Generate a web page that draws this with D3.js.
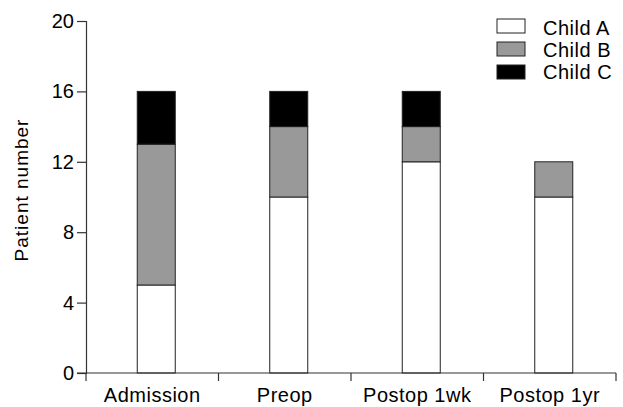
<!DOCTYPE html>
<html>
<head>
<meta charset="utf-8">
<script src="https://cdn.jsdelivr.net/npm/d3@7"></script>
<style>
  body { margin: 0; background: #fff; }
  svg text { font-family: "Liberation Sans", Arial, sans-serif; fill: #000; }
</style>
</head>
<body>
<div id="chart"></div>
<script>
(function () {
  'use strict';
  const categories = ['Admission', 'Preop', 'Postop 1wk', 'Postop 1yr'];
  const seriesNames = ['Child A', 'Child B', 'Child C'];
  const childA = [5, 10, 12, 10];
  const childB = [8, 4, 2, 2];
  const childC = [3, 2, 2, 0];
  const yTicks = [0, 4, 8, 12, 16, 20];
  const colors = ['#ffffff', '#999999', '#000000'];

  const width = 623;
  const height = 407;
  const left = 86, right = 616, top = 21, bottom = 373;

  const rows = categories.map((c, i) => ({ cat: c, 'Child A': childA[i], 'Child B': childB[i], 'Child C': childC[i] }));
  const stacked = d3.stack().keys(seriesNames)(rows);

  const x = d3.scaleBand().domain(categories).range([left, right]);
  const y = d3.scaleLinear().domain([0, 20]).range([bottom, top]);
  const barWidth = 38;
  const barShift = 4;

  const svg = d3.select('#chart')
    .append('svg')
    .attr('width', width)
    .attr('height', height);

  // bars
  stacked.forEach((layer, k) => {
    svg.append('g')
      .selectAll('rect')
      .data(layer.filter(d => d[1] > d[0]))
      .enter()
      .append('rect')
      .attr('x', d => x(d.data.cat) + x.bandwidth() / 2 - barWidth / 2 + barShift)
      .attr('y', d => y(d[1]))
      .attr('width', barWidth)
      .attr('height', d => y(d[0]) - y(d[1]))
      .attr('fill', colors[k])
      .attr('stroke', '#222')
      .attr('stroke-width', 1);
  });

  // y axis
  const yAxis = d3.axisLeft(y).tickValues(yTicks).tickSize(9).tickPadding(3);
  const gy = svg.append('g')
    .attr('transform', 'translate(' + left + ',0)')
    .call(yAxis);
  gy.select('.domain').attr('stroke', '#333').attr('stroke-width', 1.2);
  gy.selectAll('.tick line').attr('stroke', '#333').attr('stroke-width', 1.2);
  gy.selectAll('.tick text').style('font-size', '20px');

  // x axis: baseline plus separator ticks between categories
  svg.append('line')
    .attr('x1', left - 9).attr('x2', right)
    .attr('y1', y(0)).attr('y2', y(0))
    .attr('stroke', '#333').attr('stroke-width', 1.2);

  const bounds = categories.map(c => x(c)).concat([x(categories[categories.length - 1]) + x.bandwidth()]);
  svg.append('g')
    .selectAll('line')
    .data(bounds)
    .enter()
    .append('line')
    .attr('x1', d => d).attr('x2', d => d)
    .attr('y1', y(0)).attr('y2', y(0) + 8)
    .attr('stroke', '#333').attr('stroke-width', 1.2);

  svg.append('g')
    .selectAll('text')
    .data(categories)
    .enter()
    .append('text')
    .attr('x', d => x(d) + x.bandwidth() / 2)
    .attr('y', y(0) + 29)
    .attr('text-anchor', 'middle')
    .style('font-size', '20px')
    .style('letter-spacing', '0.5px')
    .text(d => d);

  // y label
  svg.append('text')
    .attr('transform', 'translate(28,190) rotate(-90)')
    .attr('text-anchor', 'middle')
    .style('font-size', '19px')
    .style('letter-spacing', '1px')
    .text('Patient number');

  // legend
  const legend = svg.append('g').attr('transform', 'translate(497,19)');
  seriesNames.forEach((name, i) => {
    legend.append('rect')
      .attr('x', 0).attr('y', i * 23)
      .attr('width', 28).attr('height', 14)
      .attr('fill', colors[i])
      .attr('stroke', '#222');
    legend.append('text')
      .attr('x', 46).attr('y', i * 22 + 16)
      .style('font-size', '20px')
      .style('letter-spacing', '0.5px')
      .text(name);
  });
}());
</script>
</body>
</html>
